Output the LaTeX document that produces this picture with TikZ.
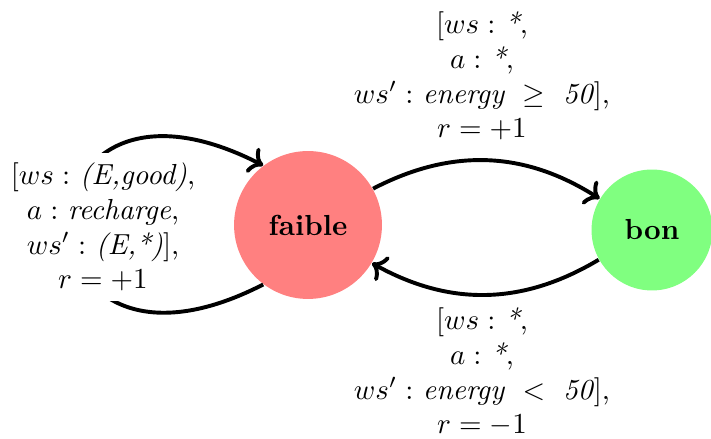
\documentclass[tikz,border=0pt]{standalone}
\usetikzlibrary{arrows.meta}
\begin{document}
\begin{tikzpicture}[x=0.3448pt,y=0.3448pt,
  state/.style={circle,inner sep=0pt,font=\bfseries},
  trans/.style={->,line width=1.35pt},
  lbl/.style={align=center}]
\useasboundingbox (0,0) rectangle (711,439);
\node[state,fill=red!50,minimum size=51pt] (faible) at (308,214) {faible};
\node[state,fill=green!50,minimum size=41.7pt] (bon) at (652,209) {bon};
\draw[trans] (faible) to[bend left=30] (bon);
\draw[trans] (bon) to[bend left=30] (faible);
\draw[trans] (faible.-127) .. controls (5,22) and (5,406) .. (faible.127);
\node[lbl,fill=white] (l1) at (103,212) {$[ws:$ \textit{(E,good)},\\ $a:$ \textit{recharge},\\ $ws':$ \textit{(E,*)}],\\ $r=+1$};
\node[lbl] (l2) at (482,363) {$[ws:$ \textit{*},\\ $a:$ \textit{*},\\ $ws':$ \textit{energy} $\;\geq\;$ \textit{50}],\\ $r=+1$};
\node[lbl] (l3) at (482,67) {$[ws:$ \textit{*},\\ $a:$ \textit{*},\\ $ws':$ \textit{energy} $\;<\;$ \textit{50}],\\ $r=-1$};
\end{tikzpicture}
\end{document}
